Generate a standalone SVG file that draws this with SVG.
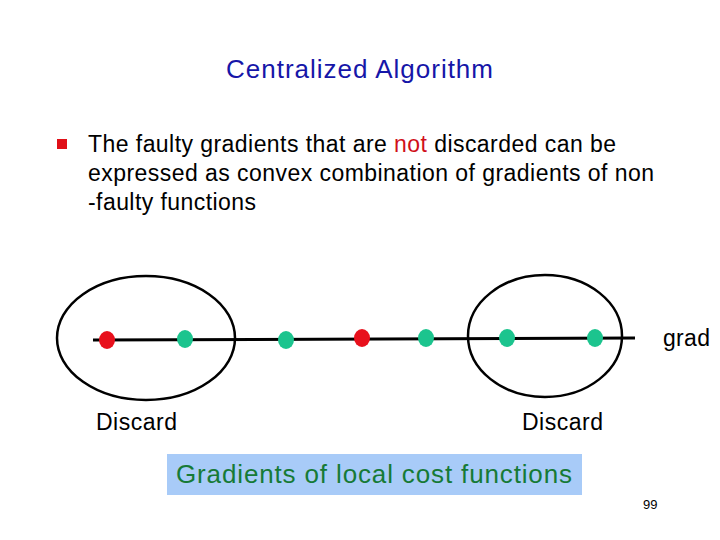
<svg xmlns="http://www.w3.org/2000/svg" width="720" height="540" viewBox="0 0 720 540">
<style>
text{font-family:"Liberation Sans",Arial,sans-serif;}
.body{font-size:23px;fill:#000;}
.red{fill:#e8101c;}
.grn{fill:#1cc48e;}
.ell{fill:none;stroke:#000;stroke-width:2.5;}
</style>
<rect width="720" height="540" fill="#fff"/>
<text x="226" y="78" textLength="267" lengthAdjust="spacing" style="font-size:26px;fill:#1616a8">Centralized Algorithm</text>
<rect x="57" y="139" width="10" height="10" fill="#e01018"/>
<text class="body" x="88" y="152" textLength="528" lengthAdjust="spacing">The faulty gradients that are <tspan fill="#d0101a">not</tspan> discarded can be</text>
<text class="body" x="88" y="181" textLength="566" lengthAdjust="spacing">expressed as convex combination of gradients of non</text>
<text class="body" x="88" y="210" textLength="168" lengthAdjust="spacing">-faulty functions</text>
<g id="connectors">
<line x1="93" y1="340" x2="635" y2="338" stroke="#000" stroke-width="3"/>
</g>
<g id="left-group"><ellipse class="ell" cx="146" cy="338" rx="89" ry="62"/></g>
<g id="right-group"><ellipse class="ell" cx="545" cy="336" rx="77" ry="61"/></g>
<g id="p1"><ellipse class="red" cx="107" cy="340" rx="8" ry="9"/></g>
<g id="p2"><ellipse class="grn" cx="185" cy="339" rx="8" ry="9"/></g>
<g id="p3"><ellipse class="grn" cx="286" cy="340" rx="8" ry="9"/></g>
<g id="p4"><ellipse class="red" cx="362" cy="338" rx="8" ry="9"/></g>
<g id="p5"><ellipse class="grn" cx="426" cy="338" rx="8" ry="9"/></g>
<g id="p6"><ellipse class="grn" cx="507" cy="338" rx="8" ry="9"/></g>
<g id="p7"><ellipse class="grn" cx="595" cy="338" rx="8" ry="9"/></g>
<text class="body" x="663" y="346" textLength="47" lengthAdjust="spacing">grad</text>
<text class="body" x="96" y="430" textLength="81" lengthAdjust="spacing">Discard</text>
<text class="body" x="522" y="430" textLength="81" lengthAdjust="spacing">Discard</text>
<g id="legend">
<rect x="167" y="454" width="415" height="41" fill="#a8cbf8"/>
<text x="176" y="483" textLength="396" lengthAdjust="spacing" style="font-size:26px;fill:#167a36">Gradients of local cost functions</text>
</g>
<text x="643" y="509" style="font-size:13px;fill:#000">99</text>
</svg>
